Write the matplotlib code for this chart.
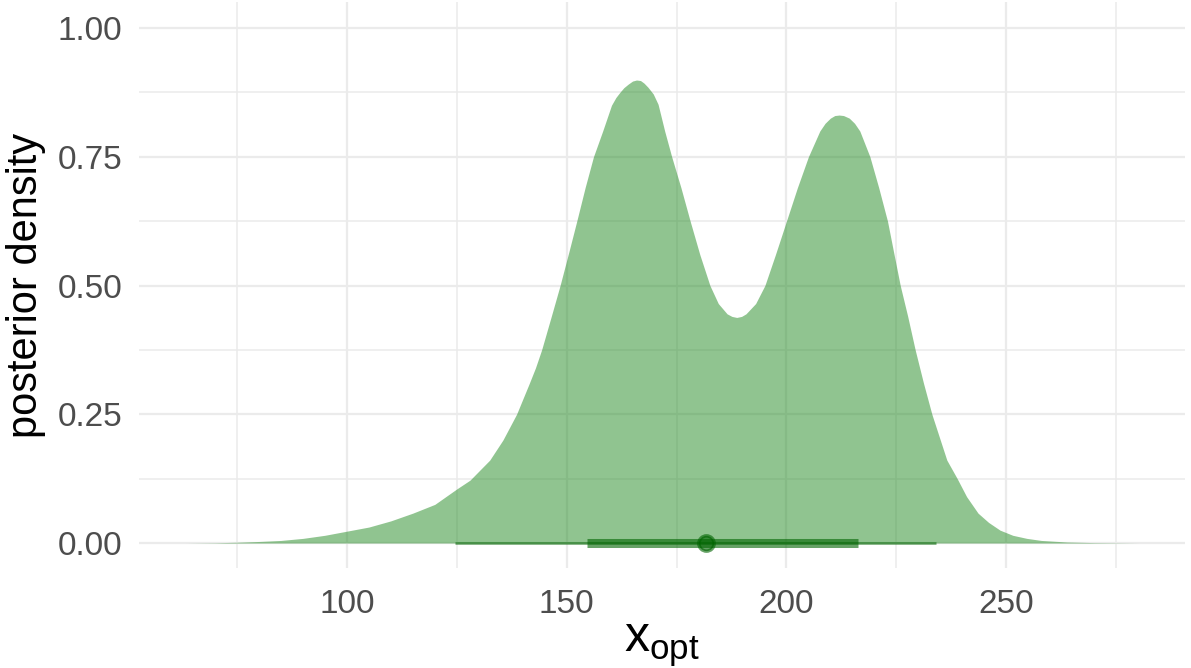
import matplotlib
matplotlib.use("Agg")
import matplotlib.pyplot as plt
from matplotlib.ticker import MultipleLocator

# posterior density of x_opt
dens_x = [63.5, 70, 75, 80, 85, 90, 95, 100, 105, 110, 115, 120, 125, 128,
          131, 132.5, 135.5, 138.6, 141.5, 142.9, 144.3, 146.5, 148.5, 150.5,
          152.3, 154.2, 156.1, 158.2, 160.2, 161.2, 162.1, 163, 164, 165,
          165.9, 166.8, 167.6, 168.5, 169.7, 170.8, 172.3, 173.9, 176, 178.1,
          180.3, 182.6, 184.5, 186.5, 187.6, 188.7, 189.8, 190.8, 193, 195.1,
          197.5, 200.0, 202.5, 205.0, 207.6, 208.8, 210, 211, 212.0, 213,
          214.3, 215.5, 216.7, 219.0, 221, 223.0, 224.5, 225.9, 227.6, 229.3,
          231.2, 233.1, 236.5, 238.8, 241, 243.6, 246, 248.6, 251.5, 254.7,
          258, 263.8, 270, 280]
dens_y = [0.0, 0.0005, 0.0015, 0.003, 0.005, 0.009, 0.015, 0.023, 0.031,
          0.043, 0.058, 0.075, 0.105, 0.122, 0.148, 0.161, 0.20, 0.25, 0.31,
          0.34, 0.375, 0.44, 0.50, 0.565, 0.625, 0.69, 0.75, 0.80, 0.85,
          0.865, 0.875, 0.884, 0.891, 0.897, 0.899, 0.898, 0.893, 0.885,
          0.872, 0.852, 0.80, 0.75, 0.69, 0.625, 0.56, 0.50, 0.465, 0.445,
          0.44, 0.438, 0.44, 0.445, 0.465, 0.50, 0.56, 0.625, 0.69, 0.75,
          0.80, 0.815, 0.825, 0.83, 0.831, 0.83, 0.825, 0.815, 0.80, 0.75,
          0.69, 0.625, 0.56, 0.50, 0.44, 0.375, 0.31, 0.25, 0.161, 0.126,
          0.09, 0.058, 0.04, 0.025, 0.015, 0.009, 0.005, 0.002, 0.0008, 0.0]

# point interval: centre, inner and outer interval
centre = 181.8
inner = [154.6, 216.4]
outer = [124.5, 234.0]

plt.rcParams['font.family'] = ['Liberation Sans', 'DejaVu Sans']

fig = plt.figure(figsize=(11.91, 6.68), dpi=100)
ax = fig.add_axes([0.1167, 0.1497, 0.995 - 0.1167, 0.997 - 0.1497])

ax.fill_between(dens_x, dens_y, 0, color='forestgreen', alpha=0.5,
                linewidth=0, zorder=2)

ic = 'darkgreen'
ax.plot(outer, [0, 0], color=ic, alpha=0.6, lw=1.8, solid_capstyle='butt', zorder=3)
ax.plot(inner, [0, 0], color=ic, alpha=0.6, lw=6.5, solid_capstyle='butt', zorder=3)
ax.plot([centre], [0], 'o', color=ic, alpha=0.6, ms=11, mew=2.5, zorder=4)

ax.set_xlim(52.7, 290.7)
ax.set_ylim(-0.0485, 1.0505)
ax.xaxis.set_minor_locator(MultipleLocator(25))
ax.yaxis.set_minor_locator(MultipleLocator(0.125))
ax.set_xticks([100, 150, 200, 250])
ax.set_yticks([0, 0.25, 0.5, 0.75, 1.0])
ax.set_yticklabels(['0.00', '0.25', '0.50', '0.75', '1.00'])

ax.grid(which='major', color='#EBEBEB', lw=1.6, zorder=0)
ax.grid(which='minor', color='#EBEBEB', lw=1.1, zorder=0)
ax.set_axisbelow(True)
for s in ax.spines.values():
    s.set_visible(False)
ax.tick_params(which='both', length=0, labelsize=24, labelcolor='#4D4D4D')
ax.tick_params(axis='y', pad=12)
ax.tick_params(axis='x', pad=15)

ax.set_ylabel('posterior density', fontsize=30, labelpad=8)
ax.set_xlabel(r'$\mathregular{x_{opt}}$', fontsize=36, labelpad=2)

fig.savefig('out.png', dpi=100)
